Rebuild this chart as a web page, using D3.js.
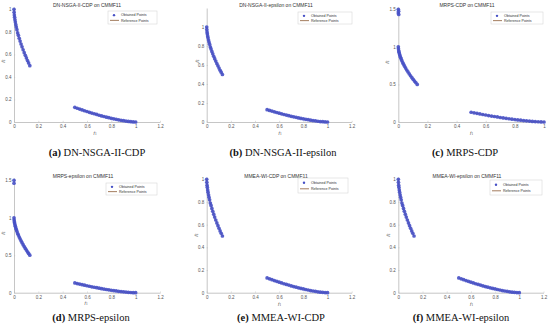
<!DOCTYPE html>
<html>
<head>
<meta charset="utf-8">
<script src="https://cdn.jsdelivr.net/npm/d3@7"></script>
<style>
  body { margin: 0; background: #fff; }
  svg { display: block; }
</style>
</head>
<body>
<svg id="chart" width="550" height="330"></svg>
<script>
// Pareto front of CMMF11: upper-left piece and lower-right piece
const upperF1 = [0, 0.001, 0.003, 0.005, 0.008, 0.011, 0.015, 0.019, 0.024, 0.03, 0.036, 0.043,
  0.05, 0.058, 0.066, 0.075, 0.084, 0.093, 0.102, 0.111, 0.12, 0.13];
const upperF2 = [1, 0.973, 0.948, 0.929, 0.906, 0.886, 0.863, 0.842, 0.819, 0.79, 0.769, 0.743,
  0.718, 0.692, 0.667, 0.641, 0.615, 0.591, 0.568, 0.545, 0.524, 0.5];
const lowerF1 = [0.5, 0.52, 0.54, 0.56, 0.58, 0.6, 0.62, 0.64, 0.66, 0.68, 0.7, 0.72, 0.74,
  0.76, 0.78, 0.8, 0.82, 0.84, 0.86, 0.88, 0.9, 0.92, 0.94, 0.96, 0.98, 1];
const lowerF2 = [0.13, 0.122, 0.115, 0.107, 0.1, 0.093, 0.086, 0.079, 0.073, 0.067, 0.06, 0.054,
  0.049, 0.043, 0.038, 0.033, 0.028, 0.024, 0.019, 0.015, 0.012, 0.008, 0.005, 0.003, 0.001, 0];

// stray obtained points near f2 = 1.5 in the MRPS runs
const extraMrpsCdp = [[0, 1.5], [0.002, 1.475], [0, 1.45], [0.003, 1.43]];
const extraMrpsEps = [[0, 1.5], [0, 1.46]];

const xTicksWide = [0, 0.2, 0.4, 0.6, 0.8, 1, 1.2];
const xTicksShort = [0, 0.2, 0.4, 0.6, 0.8, 1];
const yTicksUnit = [0, 0.2, 0.4, 0.6, 0.8, 1];
const yTicksTall = [0, 0.5, 1, 1.5];

const algorithms = ['DN-NSGA-II-CDP', 'DN-NSGA-II-epsilon', 'MRPS-CDP',
  'MRPS-epsilon', 'MMEA-WI-CDP', 'MMEA-WI-epsilon'];
const letters = ['a', 'b', 'c', 'd', 'e', 'f'];
const problem = 'CMMF11';

const POINT_COLOR = '#4650c6';
const REF_COLOR = '#8c5a35';
const AXIS_COLOR = '#b8b8b8';

// layout of each sub-figure (pixels)
const panels = [
  { left: 14, right: 160, bottom: 122, top: 7, xMax: 1.2, yMax: 1.02, xTicks: xTicksWide, yTicks: yTicksUnit,
    title: [87, 6.8], legend: [108, 11, 49, 13], f1: [95, 134], f2: [4, 61], caption: [97, 156], extra: [] },
  { left: 206.7, right: 351.7, bottom: 122, top: 8, xMax: 1.2, yMax: 1.2, xTicks: xTicksWide, yTicks: yTicksUnit,
    title: [276, 6.8], legend: [298, 12, 54, 12], f1: [280, 134], f2: [197.5, 61], caption: [283, 156], extra: [] },
  { left: 398.3, right: 544, bottom: 122, top: 7, xMax: 1, yMax: 1.53, xTicks: xTicksShort, yTicks: yTicksTall,
    title: [467, 6.8], legend: [491, 12, 52, 12], f1: [471.5, 134], f2: [388, 62], caption: [465, 156], extra: extraMrpsCdp },
  { left: 14, right: 160, bottom: 292.7, top: 178, xMax: 1.2, yMax: 1.53, xTicks: xTicksWide, yTicks: yTicksTall,
    title: [83, 177.8], legend: [106, 183, 51, 12], f1: [86, 304], f2: [4, 233], caption: [91, 321], extra: extraMrpsEps },
  { left: 206.7, right: 351.7, bottom: 292.7, top: 177, xMax: 1.2, yMax: 1.02, xTicks: xTicksWide, yTicks: yTicksUnit,
    title: [276, 177.8], legend: [298, 178, 50, 15], f1: [279.5, 305], f2: [197, 235], caption: [281, 321], extra: [] },
  { left: 398.3, right: 543.5, bottom: 292.7, top: 177, xMax: 1.2, yMax: 1.02, xTicks: xTicksWide, yTicks: yTicksUnit,
    title: [467, 177.8], legend: [490, 180, 52, 15], f1: [471.5, 305], f2: [388.5, 235], caption: [461, 321], extra: [] },
];

const svg = d3.select('#chart');
const upper = upperF1.map((f1, i) => [f1, upperF2[i]]);
const lower = lowerF1.map((f1, i) => [f1, lowerF2[i]]);

function styleAxis(a) {
  a.select('.domain').attr('stroke', AXIS_COLOR).attr('stroke-width', 0.8);
  a.selectAll('.tick line').attr('stroke', AXIS_COLOR).attr('stroke-width', 0.5);
  a.selectAll('.tick text').attr('fill', '#555').style('font', '4.5px "Liberation Sans", Arial, sans-serif');
}

function drawPanel(cfg, i) {
  const x = d3.scaleLinear().domain([0, cfg.xMax]).range([cfg.left, cfg.right]);
  const y = d3.scaleLinear().domain([0, cfg.yMax]).range([cfg.bottom, cfg.top]);
  const g = svg.append('g');
  const fmt = (d) => d3.format('~g')(d);

  g.append('g')
    .attr('transform', `translate(0,${cfg.bottom})`)
    .call(d3.axisBottom(x).tickValues(cfg.xTicks).tickFormat(fmt).tickSizeInner(-1.2).tickSizeOuter(0).tickPadding(3))
    .call(styleAxis);

  g.append('g')
    .attr('transform', `translate(${cfg.left},0)`)
    .call(d3.axisLeft(y).tickValues(cfg.yTicks).tickFormat(fmt).tickSizeInner(-1.2).tickSizeOuter(0).tickPadding(2.5))
    .call(styleAxis);

  // reference front
  const line = d3.line().x((d) => x(d[0])).y((d) => y(d[1]));
  [upper, lower].forEach((seg) => {
    g.append('path').attr('d', line(seg)).attr('fill', 'none')
      .attr('stroke', REF_COLOR).attr('stroke-width', 0.8);
  });

  // obtained points
  const pts = upper.concat(lower, cfg.extra);
  g.append('g').selectAll('circle').data(pts).join('circle')
    .attr('cx', (d) => x(d[0])).attr('cy', (d) => y(d[1]))
    .attr('r', 1.85).attr('fill', POINT_COLOR).attr('fill-opacity', 0.9);

  // title
  g.append('text').attr('x', cfg.title[0]).attr('y', cfg.title[1])
    .attr('text-anchor', 'middle').attr('fill', '#333')
    .style('font', '5px "Liberation Sans", Arial, sans-serif')
    .text(`${algorithms[i]} on ${problem}`);

  // axis labels
  const lab = (pos, sub, rotate) => {
    const t = g.append('text').attr('fill', '#444')
      .style('font', 'italic 5px "Liberation Serif", serif')
      .attr('text-anchor', 'middle')
      .attr('transform', `translate(${pos[0]},${pos[1]})${rotate ? ' rotate(-90)' : ''}`);
    t.append('tspan').text('f');
    t.append('tspan').style('font-size', '3.3px').attr('dy', 1).style('font-style', 'normal').text(sub);
  };
  lab(cfg.f1, '1', false);
  lab(cfg.f2, '2', true);

  // legend
  const [lx, ly, lw, lh] = cfg.legend;
  const lg = g.append('g');
  lg.append('rect').attr('x', lx).attr('y', ly).attr('width', lw).attr('height', lh)
    .attr('fill', '#fff').attr('stroke', '#d0d0d0').attr('stroke-width', 0.5);
  lg.append('circle').attr('cx', lx + 6).attr('cy', ly + lh * 0.32).attr('r', 1.2).attr('fill', POINT_COLOR);
  lg.append('line').attr('x1', lx + 2).attr('x2', lx + 11)
    .attr('y1', ly + lh * 0.72).attr('y2', ly + lh * 0.72)
    .attr('stroke', REF_COLOR).attr('stroke-width', 0.8);
  const legFont = '3.6px "Liberation Sans", Arial, sans-serif';
  lg.append('text').attr('x', lx + 13).attr('y', ly + lh * 0.32 + 1.2).attr('fill', '#333')
    .style('font', legFont).text('Obtained Points');
  lg.append('text').attr('x', lx + 13).attr('y', ly + lh * 0.72 + 1.2).attr('fill', '#333')
    .style('font', legFont).text('Reference Points');

  // caption
  const cap = svg.append('text').attr('x', cfg.caption[0]).attr('y', cfg.caption[1])
    .attr('text-anchor', 'middle').attr('fill', '#111')
    .style('font-family', '"Liberation Serif", "Times New Roman", serif')
    .style('font-size', '10.5px');
  cap.append('tspan').style('font-weight', 'bold').text(`(${letters[i]})`);
  cap.append('tspan').style('font-weight', 'normal').text(` ${algorithms[i]}`);
}

panels.forEach(drawPanel);
</script>
</body>
</html>
